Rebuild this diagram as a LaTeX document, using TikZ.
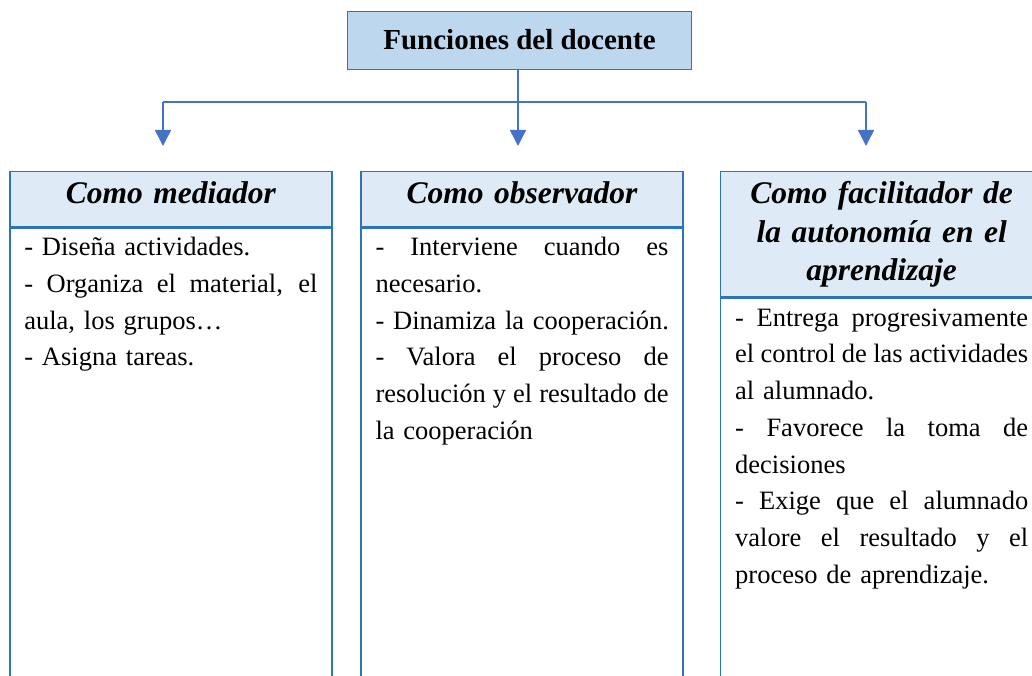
\documentclass[tikz,border=0pt]{standalone}
\usepackage{fontspec}
\setmainfont{Liberation Serif}
\usetikzlibrary{arrows.meta}

\definecolor{boxline}{HTML}{2E75B6}
\definecolor{titleline}{HTML}{41719C}
\definecolor{titlefill}{HTML}{BDD7EE}
\definecolor{headfill}{HTML}{DEEBF7}
\definecolor{arrowblue}{HTML}{4472C4}

% lines of body text: justified or left
\newcommand{\fullline}[1]{\makebox[293pt][s]{\spaceskip=0.25em plus 2em minus 0.12em\relax #1}}
\newcommand{\plainline}[1]{\makebox[293pt][l]{#1}}

\begin{document}
\begin{tikzpicture}[x=1pt,y=-1pt,
	titlebox/.style={draw=titleline, fill=titlefill, line width=1.2pt, minimum width=344pt,
		inner sep=0pt, text height=38pt, text depth=20pt, font=\bfseries\fontsize{29}{34}\selectfont},
	headbox/.style={draw=boxline, fill=headfill, line width=1.5pt, inner sep=0pt, text width=322pt,
		align=center, text height=32.3pt, font=\bfseries\itshape\fontsize{31.5}{38.5}\selectfont},
	bodybox/.style={draw=boxline, fill=white, line width=1.5pt, anchor=north, text width=293pt,
		inner xsep=14.5pt, inner ysep=0pt, align=left, text height=28pt, text depth=452pt,
		font=\fontsize{26.5}{36.7}\selectfont},
	link/.style={draw=arrowblue, line width=1.5pt},
	arrowlink/.style={link, -{Triangle[width=16pt,length=16pt]}}
	]
	\useasboundingbox (0,0) rectangle (1032,676);
	\clip (0,0) rectangle (1032,676);

	\node (title) at (519.5,40.3) [titlebox] {Funciones del docente};

	\coordinate (split) at (518,102);
	\coordinate (t1) at (163,146);
	\coordinate (t2) at (518,146);
	\coordinate (t3) at (866,146);

	\draw[link] (title.south -| split) -- (split);
	\draw[link] (split -| t1) -- (split -| t3);
	\foreach \n in {t1,t2,t3}
		\draw[arrowlink] (split -| \n) -- (\n);

	% column headers
	\node (med) at (170.85,199) [headbox, text depth=22.3pt] {Como mediador};
	\node (obs) at (522,199) [headbox, text depth=22.3pt] {Como observador};
	\node (fac) at (881.7,234.2) [headbox, text depth=92.7pt]
		{Como facilitador de\\la autonomía en el\\aprendizaje};

	% column bodies
	\node (medtxt) at (med.south) [bodybox] {%
		\plainline{- Diseña actividades.}\\
		\fullline{- Organiza el material, el}\\
		\plainline{aula, los grupos…}\\
		\plainline{- Asigna tareas.}};
	\node (obstxt) at (obs.south) [bodybox] {%
		\fullline{- Interviene cuando es}\\
		\plainline{necesario.}\\
		\plainline{- Dinamiza la cooperación.}\\
		\fullline{- Valora el proceso de}\\
		\fullline{resolución y el resultado de}\\
		\plainline{la cooperación}};
	\node (factxt) at (fac.south) [bodybox] {%
		\fullline{- Entrega progresivamente}\\
		\fullline{el control de las actividades}\\
		\plainline{al alumnado.}\\
		\fullline{- Favorece la toma de}\\
		\plainline{decisiones}\\
		\fullline{- Exige que el alumnado}\\
		\fullline{valore el resultado y el}\\
		\plainline{proceso de aprendizaje.}};
\end{tikzpicture}
\end{document}
